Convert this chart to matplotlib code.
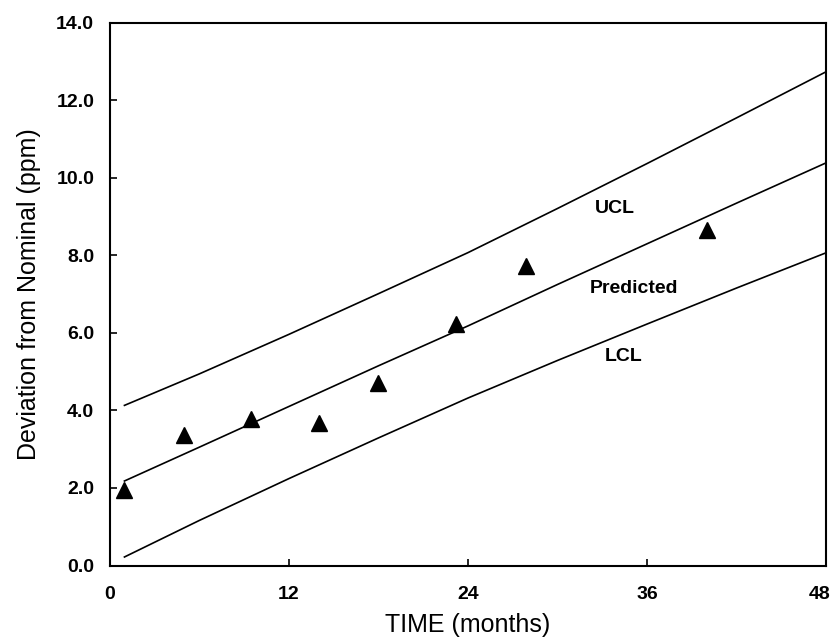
import matplotlib
matplotlib.use('Agg')
import matplotlib.pyplot as plt
from matplotlib.transforms import ScaledTranslation

# values
months = [1, 5, 9.5, 14, 18, 23.2, 27.9, 40]
deviation = [1.95, 3.36, 3.77, 3.68, 4.71, 6.22, 7.73, 8.66]

line_x = [1, 6, 12, 18, 24, 30, 36, 42, 48]
predicted = [2.18, 3.05, 4.10, 5.15, 6.18, 7.25, 8.30, 9.35, 10.39]
ucl = [4.13, 4.94, 5.96, 7.01, 8.07, 9.21, 10.37, 11.55, 12.74]
lcl = [0.22, 1.16, 2.24, 3.29, 4.32, 5.29, 6.23, 7.16, 8.07]

x_ticks = [0, 12, 24, 36, 48]
y_ticks = [0, 2, 4, 6, 8, 10, 12, 14]

plt.rcParams['font.family'] = ['Liberation Sans', 'DejaVu Sans']

fig = plt.figure(figsize=(8.34, 6.43), dpi=100)
ax = fig.add_axes([0.1313, 0.1205, 0.8597, 0.8442])

ax.plot(line_x, ucl, color='black', lw=1.2)
ax.plot(line_x, predicted, color='black', lw=1.2)
ax.plot(line_x, lcl, color='black', lw=1.2)
ax.plot(months, deviation, linestyle='none', marker='^', color='black', markersize=11)

ax.text(33.8, 9.21, 'UCL', fontsize=14, fontweight='bold', ha='center', va='center')
ax.text(35.1, 7.14, 'Predicted', fontsize=14, fontweight='bold', ha='center', va='center')
ax.text(34.4, 5.38, 'LCL', fontsize=14, fontweight='bold', ha='center', va='center')

ax.set_xlim(0, 48)
ax.set_ylim(0, 14)
ax.set_xticks(x_ticks)
ax.set_yticks(y_ticks)
ax.set_xticklabels([str(t) for t in x_ticks], fontsize=14, fontweight='bold')
ax.set_yticklabels([f'{t:.1f}' for t in y_ticks], fontsize=14, fontweight='bold')
ax.tick_params(axis='y', direction='in', length=5, width=1.2, pad=11)
ax.tick_params(axis='x', direction='in', length=5, width=1.2, pad=15)

# last x label sits a bit left of its tick, so it stays inside the picture
last = ax.get_xticklabels()[-1]
last.set_transform(last.get_transform() + ScaledTranslation(-7 / 100, 0, fig.dpi_scale_trans))

for s in ax.spines.values():
    s.set_linewidth(1.5)

ax.set_xlabel('TIME (months)', fontsize=18, labelpad=7)
ax.set_ylabel('Deviation from Nominal (ppm)', fontsize=18, labelpad=11)

fig.savefig('out.png', dpi=100)
